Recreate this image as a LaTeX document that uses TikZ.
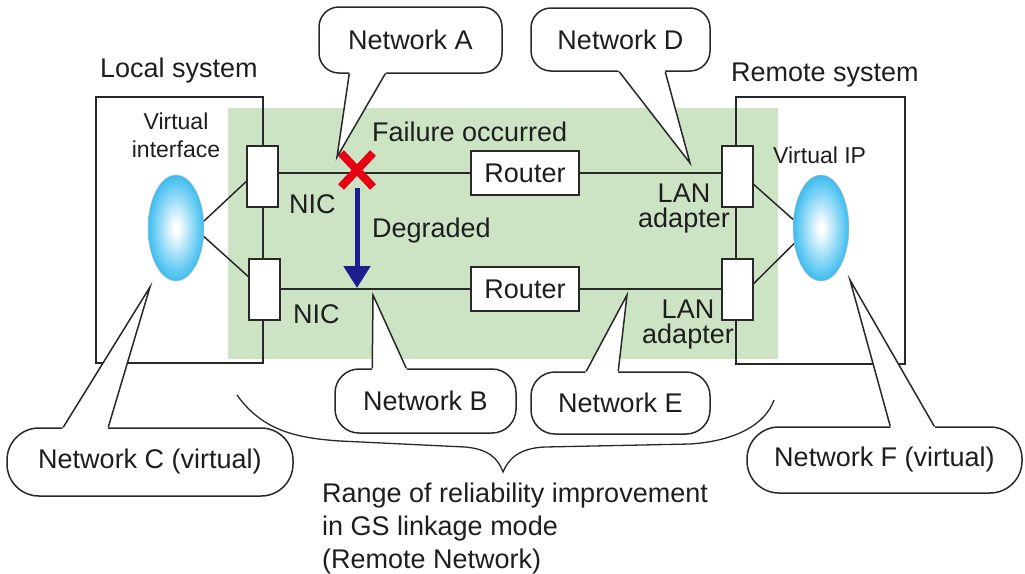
\documentclass[tikz,border=0pt]{standalone}
\usepackage{fontspec}
\setmainfont{Liberation Sans}
\usetikzlibrary{shapes.geometric,arrows.meta,calc}
\definecolor{ballc}{RGB}{0,168,234}
\definecolor{grn}{RGB}{205,228,196}
\definecolor{lnc}{RGB}{40,40,40}
\definecolor{xred}{RGB}{230,0,18}
\definecolor{arrblue}{RGB}{28,30,140}
\definecolor{txt}{RGB}{30,30,30}
\pgfdeclareradialshading{ballshade}{\pgfpoint{0bp}{0bp}}{color(0bp)=(white); color(2bp)=(white); color(32bp)=(ballc); color(50bp)=(ballc)}
\newcommand\calltail[3]{%
  \fill[white] (#3) -- ($(#3)!1.04!(#1)$) -- ($(#3)!1.04!(#2)$) -- cycle;
  \draw[ln] (#1) -- (#3) -- (#2);}
\begin{document}
\begin{tikzpicture}[x=1pt,y=-1pt,
  ln/.style={draw=lnc, line width=1.5pt},
  big/.style={font=\fontsize{27}{25}\selectfont, text=txt, inner sep=0pt},
  sm/.style={font=\fontsize{23}{28}\selectfont, text=txt, inner sep=0pt},
  frame/.style={ln, rectangle, inner sep=0pt},
  wbox/.style={ln, fill=white, rectangle, inner sep=0pt},
  cbox/.style={ln, fill=white, rectangle, rounded corners=#1, inner sep=0pt, font=\fontsize{27}{30}\selectfont, text=txt},
  ball/.style={ellipse, shade, shading=ballshade, draw=gray!50, line width=0.5pt, minimum width=56pt, minimum height=106pt, inner sep=0pt}]
\useasboundingbox (0,0) rectangle (1025,573);
% green range
\fill[grn] (228,108) rectangle (778,359);
% system frames
\node[frame, minimum width=167pt, minimum height=266pt] (loc) at (179.5,230) {};
\node[frame, minimum width=169pt, minimum height=267pt] (rem) at (820.5,230.5) {};
\node[big, anchor=base west] (loct) at (100,77) {Local system};
\node[big, anchor=base west] (remt) at (731,81) {Remote system};
% adapters
\node[wbox, minimum width=31pt, minimum height=61pt] (nic1) at (262.5,176.5) {};
\node[wbox, minimum width=31pt, minimum height=61pt] (nic2) at (264.5,289.5) {};
\node[wbox, minimum width=31pt, minimum height=61pt] (lan1) at (737.5,176.5) {};
\node[wbox, minimum width=31pt, minimum height=61pt] (lan2) at (737.5,289.5) {};
% routers
\node[wbox, big, minimum width=108pt, minimum height=44pt] (r1) at (525,173) {Router};
\node[wbox, big, minimum width=108pt, minimum height=44pt] (r2) at (525,289) {Router};
% virtual interfaces
\node[ball] (vi) at (176,228) {};
\node[ball] (vip) at (821,228) {};
\node[sm, align=center, anchor=base] (vit) at (176,157) {Virtual\\interface};
\node[sm, anchor=base west] (vipt) at (773,163) {Virtual IP};
% connections
\draw[ln] (vi.14) -- ([yshift=-5pt]nic1.west);
\draw[ln] (vi.-17) -- ([yshift=13pt]nic2.west);
\draw[ln] (vip.163) -- ([yshift=-8pt]lan1.east);
\draw[ln] (vip.210) -- ([yshift=6pt]lan2.east);
\draw[ln] (nic1.east |- r1.west) -- (r1.west);
\draw[ln] (r1.east) -- (lan1.west |- r1.east);
\draw[ln] (nic2.east |- r2.west) -- (r2.west);
\draw[ln] (r2.east) -- (lan2.west |- r2.east);
% labels
\node[big, anchor=base west] (nic1t) at (289,213) {NIC};
\node[big, anchor=base west] (nic2t) at (293,323) {NIC};
\node[big, align=center, anchor=base] (lan1t) at (684,227) {LAN\\adapter};
\node[big, align=center, anchor=base] (lan2t) at (688,343) {LAN\\adapter};
\node[big, anchor=base west] (fail) at (372,141) {Failure occurred};
\node[big, anchor=base west] (degr) at (372,237) {Degraded};
% failure mark and degrade arrow
\coordinate (xf) at (357,170);
\draw[xred, line width=8pt] ($(xf)+(-16,-17)$) -- ($(xf)+(16,17)$) ($(xf)+(16,-17)$) -- ($(xf)+(-16,17)$);
\coordinate (arrS) at (357,188);
\coordinate (arrE) at (357,288);
\draw[arrblue, line width=5pt, -{Triangle[width=26pt,length=22pt]}] (arrS) -- (arrE);
% callouts
\node[cbox=20pt, minimum width=183pt, minimum height=66pt] (na) at (410.5,40) {Network A};
\coordinate (ta1) at ($(na.south west)+(31,0)$);
\coordinate (ta2) at ($(na.south west)+(67,0)$);
\coordinate (tipa) at (337,157);
\calltail{ta1}{ta2}{tipa}
\node[cbox=20pt, minimum width=179pt, minimum height=63pt] (nd) at (620.5,39.5) {Network D};
\coordinate (td1) at ($(nd.south west)+(89,0)$);
\coordinate (td2) at ($(nd.south west)+(135,0)$);
\coordinate (tipd) at (690,163);
\calltail{td1}{td2}{tipd}
\node[cbox=24pt, minimum width=181pt, minimum height=64pt] (nb) at (425.5,401) {Network B};
\coordinate (tb1) at ($(nb.north west)+(38,0)$);
\coordinate (tb2) at ($(nb.north west)+(72,0)$);
\coordinate (tipb) at (373,295);
\calltail{tb1}{tb2}{tipb}
\node[cbox=24pt, minimum width=179pt, minimum height=62pt] (ne) at (620.5,403) {Network E};
\coordinate (te1) at ($(ne.north west)+(56,0)$);
\coordinate (te2) at ($(ne.north west)+(88,0)$);
\coordinate (tipe) at (627,295);
\calltail{te1}{te2}{tipe}
\node[cbox=32pt, minimum width=286pt, minimum height=68pt] (nc) at (150,462) {Network C (virtual)};
\coordinate (tc1) at ($(nc.north west)+(57,0)$);
\coordinate (tc2) at ($(nc.north west)+(102,0)$);
\coordinate (tipc) at (150,287);
\calltail{tc1}{tc2}{tipc}
\node[cbox=32pt, minimum width=275pt, minimum height=66pt] (nf) at (884.5,460) {Network F (virtual)};
\coordinate (tf1) at ($(nf.north west)+(144,0)$);
\coordinate (tf2) at ($(nf.north west)+(188,0)$);
\coordinate (tipf) at (850,280);
\calltail{tf1}{tf2}{tipf}
% brace
\coordinate (brL) at (237,395);
\coordinate (brT) at (503,472);
\coordinate (brR) at (774,400);
\draw[ln, line width=1.3pt] (brL) .. controls (262,430) and (295,438) .. (340,441) -- (465,447) .. controls (488,449) and (498,458) .. (brT) .. controls (508,460) and (518,448) .. (545,447) -- (690,444) .. controls (735,441) and (765,425) .. (brR);
\node[big, font=\fontsize{27}{33}\selectfont, align=left, anchor=base west] (rng) at (322,568) {Range of reliability improvement\\in GS linkage mode\\(Remote Network)};
\end{tikzpicture}
\end{document}
